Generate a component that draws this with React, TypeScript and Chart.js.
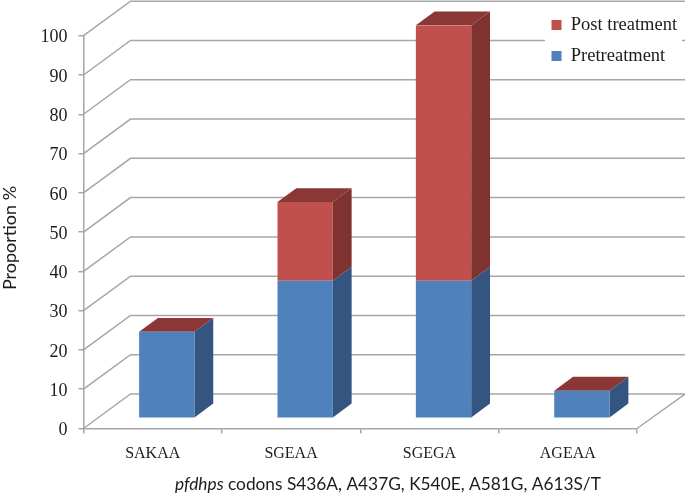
import React, { useEffect, useRef } from "react";
import { Chart, registerables } from "chart.js";

Chart.register(...registerables);

const categories = ["SAKAA", "SGEAA", "SGEGA", "AGEAA"];
const pretreatment = [22, 35, 35, 7];
const postTreatment = [0, 20, 65, 0];
const yMax = 100;
const yStep = 10;
const yTitle = "Proportion %";
const xTitleItalic = "pfdhps";
const xTitleRest = " codons S436A, A437G, K540E, A581G, A613S/T";

const BLUE = "#4f81bd";
const RED = "#c0504d";
const BLUE_SIDE = "#335580";
const RED_SIDE = "#7f3331";
const RED_TOP = "#8b3735";
const GRID = "#a6a6a6";
const TEXT = "#1c1c1c";
const SERIF = "'Liberation Serif', serif";
const SANS = "Lato, sans-serif";

// Depth of the 3D box in pixels, and where the bars sit inside it
const DEPTH_X = 47;
const DEPTH_Y = -34.5;
const BAR_OFFSET = 0.3;
const BAR_DEPTH = 0.4;

const poly = (ctx: CanvasRenderingContext2D, pts: number[][], fill: string) => {
  ctx.beginPath();
  pts.forEach(([x, y], i) => (i ? ctx.lineTo(x, y) : ctx.moveTo(x, y)));
  ctx.closePath();
  ctx.fillStyle = fill;
  ctx.fill();
};

const threeD = {
  id: "threeD",
  beforeUpdate(chart: any) {
    // The legend floats over the wall, so it must not take room from the plot
    const lg = chart.legend;
    if (lg && !lg.__floating) {
      const fit = lg.fit.bind(lg);
      lg.fit = () => {
        fit();
        lg.width = 0;
      };
      lg.__floating = true;
    }
  },
  afterLayout(chart: any) {
    const lg = chart.legend;
    lg.left = 539;
    lg.right = 685;
    lg.top = 3.25;
    lg.bottom = 100;
    lg.width = lg.right - lg.left;
    lg.height = lg.bottom - lg.top;
  },
  beforeDraw(chart: any) {
    const { ctx, chartArea: a } = chart;
    const y = chart.scales.y;
    ctx.save();
    ctx.strokeStyle = GRID;
    ctx.lineWidth = 1.5;
    for (let v = 0; v <= yMax; v += yStep) {
      const py = y.getPixelForValue(v);
      ctx.beginPath();
      ctx.moveTo(a.left, py);
      ctx.lineTo(a.left + DEPTH_X, py + DEPTH_Y);
      ctx.lineTo(a.right + DEPTH_X + 1, py + DEPTH_Y);
      if (v === 0) ctx.lineTo(a.right, py);
      ctx.stroke();
    }
    // Legend backing hides the gridline behind it
    ctx.fillStyle = "#ffffff";
    ctx.fillRect(545, 10, 137, 60);
    ctx.restore();
  },
  beforeDatasetsDraw(chart: any) {
    const { ctx } = chart;
    const ox = DEPTH_X * BAR_OFFSET;
    const oy = DEPTH_Y * BAR_OFFSET;
    const dx = DEPTH_X * BAR_DEPTH;
    const dy = DEPTH_Y * BAR_DEPTH;
    ctx.save();
    const sides = [BLUE_SIDE, RED_SIDE];
    chart.data.datasets.forEach((_: any, di: number) => {
      chart.getDatasetMeta(di).data.forEach((el: any) => {
        const r = el.x + el.width / 2 + ox;
        const t = el.y + oy;
        const b = el.base + oy;
        if (b - t > 0) {
          poly(ctx, [[r, t], [r + dx, t + dy], [r + dx, b + dy], [r, b]], sides[di]);
        }
      });
    });
    const last = chart.getDatasetMeta(chart.data.datasets.length - 1);
    last.data.forEach((el: any) => {
      const l = el.x - el.width / 2 + ox;
      const r = el.x + el.width / 2 + ox;
      const t = el.y + oy;
      poly(ctx, [[l, t], [r, t], [r + dx, t + dy], [l + dx, t + dy]], RED_TOP);
    });
    ctx.restore();
    ctx.save();
    ctx.translate(ox, oy);
  },
  afterDatasetsDraw(chart: any) {
    chart.ctx.restore();
  },
  afterDraw(chart: any) {
    const { ctx } = chart;
    ctx.save();
    ctx.fillStyle = TEXT;
    ctx.textBaseline = "middle";
    ctx.textAlign = "left";
    const yy = 484;
    ctx.font = `italic 17.3px ${SANS}`;
    const w1 = ctx.measureText(xTitleItalic).width;
    ctx.fillText(xTitleItalic, 175, yy);
    ctx.font = `17.3px ${SANS}`;
    ctx.fillText(xTitleRest, 175 + w1, yy);
    ctx.font = `18px ${SANS}`;
    ctx.translate(10, 238);
    ctx.rotate(-Math.PI / 2);
    ctx.textAlign = "center";
    ctx.fillText(yTitle, 0, 0);
    ctx.restore();
  },
};

export default function App() {
  const ref = useRef<HTMLCanvasElement | null>(null);
  useEffect(() => {
    document.body.style.margin = "0";
    const chart = new Chart(ref.current as HTMLCanvasElement, {
      type: "bar",
      plugins: [threeD],
      data: {
        labels: categories,
        datasets: [
          { label: "Pretreatment", data: pretreatment, backgroundColor: BLUE, borderWidth: 0 },
          { label: "Post treatment", data: postTreatment, backgroundColor: RED, borderWidth: 0 },
        ],
      },
      options: {
        responsive: false,
        animation: false,
        events: [],
        layout: { padding: { top: 35.7, right: 48, left: 0, bottom: 0 } },
        datasets: { bar: { barPercentage: 0.4, categoryPercentage: 1 } },
        plugins: {
          tooltip: { enabled: false },
          title: { display: false },
          legend: {
            position: "right",
            reverse: true,
            align: "start",
            labels: {
              boxWidth: 10,
              boxHeight: 10,
              padding: 12.5,
              color: TEXT,
              font: { family: SERIF, size: 18.5 },
            },
          },
        },
        scales: {
          x: {
            stacked: true,
            afterFit: (s: any) => { s.height = 67.5; },
            border: { color: GRID, width: 1.5 },
            grid: { drawOnChartArea: false, drawTicks: true, tickLength: 5, color: GRID, lineWidth: 1.5 },
            ticks: { color: TEXT, font: { family: SERIF, size: 16 }, padding: 11, maxRotation: 0 },
          },
          y: {
            stacked: true,
            min: 0,
            max: yMax,
            afterFit: (s: any) => { s.width = 83.5; },
            border: { color: GRID, width: 1.5 },
            grid: { drawOnChartArea: false, drawTicks: true, tickLength: 5, color: GRID, lineWidth: 1.5 },
            ticks: { stepSize: yStep, color: TEXT, font: { family: SERIF, size: 18 }, padding: 11, labelOffset: 2 },
          },
        },
      },
    } as any);
    return () => chart.destroy();
  }, []);
  return (
    <canvas ref={ref} width={685} height={496} style={{ display: "block", width: 685, height: 496 }} />
  );
}
